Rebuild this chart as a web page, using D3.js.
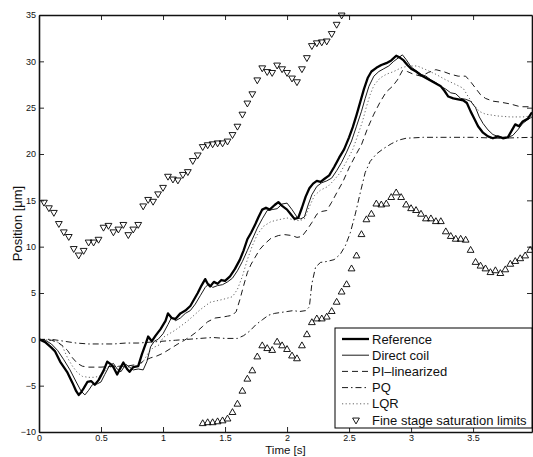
<!DOCTYPE html>
<html>
<head>
<meta charset="utf-8">
<script src="https://d3js.org/d3.v7.min.js"></script>
<style>
body { margin: 0; background: #fff; }
svg { display: block; }
text { font-family: "Liberation Sans", Arial, Helvetica, sans-serif; fill: #111; }
</style>
</head>
<body>
<svg id="chart" width="533" height="457"></svg>
<script>
// values
var legend_names = ["Reference", "Direct coil", "PI\u2013linearized", "PQ", "LQR", "Fine stage saturation limits"]
var x_ticks = [0, 0.5, 1, 1.5, 2, 2.5, 3, 3.5]
var y_ticks = [-10, -5, 0, 5, 10, 15, 20, 25, 30, 35]

var ref_t = [0,0.05,0.1,0.13,0.17,0.2,0.23,0.27,0.3,0.32,0.34,0.36,0.39,0.42,0.45,0.48,0.52,0.55,0.58,0.6,0.63,0.66,0.68,0.71,0.73,0.76,0.8,0.83,0.86,0.88,0.91,0.94,0.98,1.02,1.04,1.07,1.1,1.14,1.18,1.22,1.25,1.28,1.31,1.34,1.36,1.38,1.41,1.44,1.47,1.5,1.54,1.58,1.62,1.65,1.68,1.71,1.74,1.77,1.8,1.83,1.86,1.9,1.93,1.96,2.0,2.03,2.06,2.09,2.12,2.15,2.18,2.21,2.24,2.27,2.3,2.34,2.38,2.42,2.46,2.5,2.53,2.56,2.59,2.62,2.65,2.68,2.72,2.76,2.8,2.84,2.88,2.91,2.94,2.97,3.0,3.04,3.08,3.12,3.16,3.2,3.24,3.27,3.3,3.34,3.38,3.42,3.45,3.48,3.51,3.54,3.58,3.62,3.66,3.7,3.74,3.78,3.81,3.84,3.87,3.9,3.94,3.975]
var ref_y = [0,-0.3,-0.9,-1.3,-2.4,-3.0,-3.6,-4.7,-5.6,-6.0,-5.7,-5.3,-4.6,-4.5,-4.9,-4.4,-3.4,-2.4,-2.7,-3.0,-3.8,-3.0,-2.5,-3.2,-3.5,-3.0,-2.9,-1.6,-0.5,0.3,-0.2,0.4,1.1,2.0,2.8,2.3,2.2,2.8,3.1,3.6,4.3,5.0,5.8,6.5,6.0,5.7,6.2,6.0,6.4,6.3,6.8,7.6,8.6,9.6,10.8,11.5,12.3,13.2,14.0,14.2,14.0,14.5,14.8,14.4,14.0,13.5,13.0,13.1,14.2,15.4,16.3,16.8,17.1,17.0,17.3,17.7,18.6,19.6,20.5,21.8,22.9,24.2,25.6,27.0,28.2,28.9,29.3,29.6,29.8,30.1,30.6,30.4,30.1,29.6,29.2,28.9,28.5,28.2,27.9,27.6,27.3,26.8,26.2,26.0,25.9,25.8,25.5,24.6,23.8,23.0,22.3,21.9,21.7,21.9,21.7,21.8,22.5,23.2,23.0,23.5,23.8,24.5]

var coil_t = [0,0.05,0.1,0.15,0.2,0.25,0.3,0.34,0.37,0.4,0.43,0.47,0.5,0.53,0.57,0.6,0.63,0.66,0.7,0.73,0.76,0.8,0.84,0.87,0.9,0.93,0.96,1.0,1.04,1.07,1.1,1.14,1.18,1.22,1.26,1.3,1.34,1.37,1.4,1.44,1.48,1.52,1.56,1.6,1.64,1.68,1.72,1.76,1.8,1.84,1.88,1.92,1.96,2.0,2.04,2.08,2.11,2.14,2.17,2.2,2.24,2.28,2.32,2.36,2.4,2.44,2.48,2.52,2.56,2.6,2.63,2.66,2.7,2.74,2.78,2.82,2.86,2.9,2.93,2.96,3.0,3.04,3.08,3.12,3.16,3.2,3.24,3.28,3.32,3.36,3.4,3.44,3.48,3.52,3.55,3.58,3.62,3.66,3.7,3.74,3.78,3.82,3.86,3.9,3.94,3.975]
var coil_y = [0,-0.1,-0.5,-1.2,-2.2,-3.3,-4.6,-5.6,-6.0,-5.5,-4.9,-4.8,-4.6,-3.8,-2.8,-2.6,-3.2,-3.5,-2.7,-3.0,-3.3,-3.2,-3.3,-2.4,-0.8,-0.2,0.0,0.6,1.6,2.4,2.0,2.3,2.8,3.1,3.8,4.7,5.6,6.0,5.6,5.8,5.9,6.2,6.6,7.4,8.4,9.6,10.8,12.0,13.0,13.9,14.0,14.1,14.6,14.7,14.0,13.2,13.0,13.2,14.5,15.6,16.5,16.9,17.1,17.4,18.2,19.1,20.2,21.4,23.0,24.6,26.0,27.3,28.4,28.9,29.2,29.5,30.0,30.4,30.7,30.2,29.4,29.0,28.6,28.4,28.0,27.7,27.3,27.0,26.6,26.5,26.0,25.9,25.7,25.0,24.0,23.3,22.6,22.1,21.9,21.8,21.8,22.0,22.6,23.3,23.7,24.0]

var pi_t = [0,0.1,0.15,0.2,0.23,0.27,0.31,0.35,0.4,0.5,0.6,0.7,0.8,0.85,0.9,0.95,1.0,1.06,1.12,1.16,1.22,1.27,1.32,1.36,1.42,1.48,1.52,1.56,1.59,1.62,1.65,1.68,1.71,1.74,1.78,1.82,1.87,1.93,1.98,2.04,2.08,2.12,2.16,2.2,2.24,2.28,2.32,2.36,2.4,2.45,2.5,2.55,2.6,2.65,2.7,2.75,2.8,2.85,2.89,2.93,2.97,3.02,3.08,3.14,3.2,3.26,3.32,3.38,3.44,3.48,3.52,3.56,3.6,3.66,3.72,3.8,3.88,3.975]
var pi_y = [0,-0.1,-0.3,-0.8,-1.2,-2.0,-2.6,-2.9,-3.0,-3.0,-2.9,-2.9,-2.7,-2.3,-2.0,-1.8,-1.5,-1.0,-0.5,-0.2,0.3,0.8,1.4,1.9,2.3,2.4,2.5,2.6,3.0,4.3,5.8,7.2,8.1,8.8,9.7,10.3,10.9,11.2,11.3,11.2,11.0,11.1,11.8,12.6,13.5,13.8,13.9,14.8,15.8,17.0,18.5,19.8,21.0,22.8,24.3,25.6,26.7,27.3,28.0,29.0,28.9,28.6,28.4,28.8,29.1,28.9,28.6,28.4,28.4,27.8,27.1,26.4,26.0,25.7,25.6,25.4,25.1,25.1]

var pq_t = [0,0.1,0.2,0.3,0.4,0.5,0.6,0.7,0.8,0.9,1.0,1.1,1.2,1.3,1.4,1.5,1.6,1.65,1.7,1.75,1.8,1.85,1.9,1.95,2.0,2.05,2.1,2.15,2.18,2.2,2.23,2.27,2.32,2.38,2.43,2.47,2.51,2.55,2.59,2.63,2.67,2.72,2.78,2.84,2.9,2.96,3.1,3.3,3.5,3.7,3.975]
var pq_y = [0,0.0,-0.2,-0.4,-0.5,-0.5,-0.5,-0.4,-0.4,-0.3,-0.2,-0.1,0.0,0.1,0.2,0.1,0.1,0.4,0.9,1.6,2.1,2.6,2.8,2.9,3.0,3.1,3.0,3.1,3.5,6.0,7.8,8.3,8.4,8.6,9.2,10.1,11.5,13.5,15.8,18.0,19.2,20.0,20.6,21.1,21.5,21.7,21.8,21.8,21.8,21.7,21.8]

var lqr_t = [0,0.1,0.15,0.19,0.23,0.27,0.31,0.35,0.4,0.45,0.5,0.55,0.6,0.7,0.8,0.84,0.88,0.92,0.97,1.0,1.1,1.2,1.3,1.38,1.48,1.56,1.6,1.64,1.68,1.72,1.76,1.81,1.87,1.93,2.0,2.05,2.1,2.14,2.18,2.22,2.27,2.33,2.38,2.43,2.48,2.53,2.57,2.61,2.64,2.67,2.7,2.75,2.8,2.86,2.92,2.98,3.05,3.12,3.2,3.28,3.36,3.42,3.46,3.5,3.55,3.6,3.7,3.8,3.9,3.975]
var lqr_y = [0,-0.1,-0.3,-0.8,-2.0,-2.9,-3.6,-4.0,-4.1,-4.1,-3.9,-3.1,-2.9,-3.0,-2.9,-2.4,-1.5,-0.9,-0.6,0.2,1.0,2.0,3.2,4.0,4.3,4.6,5.4,6.8,8.6,10.1,11.3,12.2,12.7,12.9,13.1,12.9,12.8,13.0,14.3,15.5,16.1,16.5,17.2,18.0,19.2,20.5,22.0,23.6,25.1,26.4,27.4,28.2,28.6,28.9,29.3,29.5,29.5,29.1,28.6,28.0,27.5,27.1,26.2,25.4,24.6,24.3,24.1,24.0,24.0,24.1]

var upper_t = [0.04,0.08,0.12,0.16,0.2,0.24,0.28,0.32,0.36,0.4,0.44,0.48,0.52,0.56,0.6,0.64,0.68,0.72,0.76,0.8,0.84,0.88,0.92,0.96,1.0,1.04,1.08,1.12,1.16,1.2,1.24,1.28,1.32,1.36,1.4,1.44,1.48,1.52,1.56,1.6,1.64,1.68,1.72,1.76,1.8,1.84,1.88,1.92,1.96,2.0,2.04,2.08,2.12,2.16,2.2,2.24,2.28,2.32,2.36,2.4,2.44]
var upper_y = [14.8,14.2,13.7,12.5,11.6,11.1,9.8,9.1,9.6,10.5,10.5,10.8,12.1,12.3,11.6,11.9,12.4,11.3,11.9,12.4,14.4,15.1,14.9,15.7,16.4,17.6,17.3,17.2,17.8,18.1,19.3,19.9,20.8,21.0,21.1,21.2,21.2,21.4,22.1,23.0,24.3,25.5,26.5,28.0,29.3,28.9,28.8,29.6,29.2,28.8,28.2,27.8,29.2,30.4,31.7,32.0,32.1,32.2,33.0,34.0,35.0]

var lower_t = [1.32,1.36,1.4,1.44,1.48,1.52,1.56,1.6,1.64,1.68,1.72,1.76,1.8,1.84,1.88,1.92,1.96,2.0,2.04,2.08,2.12,2.16,2.2,2.24,2.28,2.32,2.36,2.4,2.44,2.48,2.52,2.56,2.6,2.64,2.68,2.72,2.76,2.8,2.84,2.88,2.92,2.96,3.0,3.04,3.08,3.12,3.16,3.2,3.24,3.28,3.32,3.36,3.4,3.44,3.48,3.52,3.56,3.6,3.64,3.68,3.72,3.76,3.8,3.84,3.88,3.92,3.96]
var lower_y = [-9.1,-9.0,-9.0,-8.9,-8.8,-8.6,-7.9,-7.0,-5.6,-4.3,-3.4,-1.9,-0.7,-1.0,-1.2,-0.3,-0.7,-1.1,-1.8,-2.1,-0.7,0.5,1.8,2.2,2.2,2.4,3.0,4.0,5.1,5.9,7.6,9.0,11.3,12.9,13.5,14.6,14.5,14.6,15.3,15.8,15.3,14.5,14.1,13.9,13.5,13.0,13.0,12.7,12.7,11.6,11.1,10.8,10.8,10.7,9.6,8.3,7.9,7.6,7.2,7.4,7.1,7.5,8.1,8.4,8.7,9.0,9.6]

var svg = d3.select("#chart")
var plot_left = 39, plot_right = 532, plot_top = 15, plot_bottom = 432

var x_scale = d3.scaleLinear().domain([0, 3.975]).range([plot_left, plot_right]),
    y_scale = d3.scaleLinear().domain([-10, 35]).range([plot_bottom, plot_top])

var zip = (ts, ys) => ts.map((t, i) => [t, ys[i]])

var series = [
	{name: legend_names[0], pts: zip(ref_t, ref_y),   width: 2.3, dash: null,          color: "#000"},
	{name: legend_names[1], pts: zip(coil_t, coil_y), width: 0.9, dash: null,          color: "#000"},
	{name: legend_names[2], pts: zip(pi_t, pi_y),     width: 0.9, dash: "6,4",         color: "#000"},
	{name: legend_names[3], pts: zip(pq_t, pq_y),     width: 0.9, dash: "6,3,1.5,3",   color: "#000"},
	{name: legend_names[4], pts: zip(lqr_t, lqr_y),   width: 0.9, dash: "1.2,2.4",     color: "#555"}
]

svg.append("clipPath").attr("id", "plot_clip")
  .append("rect")
  .attr("x", plot_left).attr("y", plot_top)
  .attr("width", plot_right - plot_left).attr("height", plot_bottom - plot_top)

var line = d3.line().x(d => x_scale(d[0])).y(d => y_scale(d[1]))

svg.append("g")
  .attr("clip-path", "url(#plot_clip)")
  .selectAll(".series_line")
  .data(series.slice().reverse())
  .enter()
  .append("path")
  .attr("class", "series_line")
  .attr("d", d => line(d.pts))
  .style("fill", "none")
  .style("stroke", d => d.color)
  .style("stroke-width", d => d.width)
  .style("stroke-dasharray", d => d.dash)
  .style("stroke-linejoin", "round")

// saturation limits: upper bound drawn as down triangles, lower as up triangles
var tri = d3.symbol().type(d3.symbolTriangle).size(20)
var marks = zip(upper_t, upper_y).map(d => ({t: d[0], v: d[1], down: true}))
  .concat(zip(lower_t, lower_y).map(d => ({t: d[0], v: d[1], down: false})))

svg.append("g")
  .selectAll(".limit_mark")
  .data(marks)
  .enter()
  .append("path")
  .attr("class", "limit_mark")
  .attr("d", tri)
  .attr("transform", d => "translate(" + x_scale(d.t) + "," + y_scale(d.v) + ")" + (d.down ? " rotate(180)" : ""))
  .style("fill", "none")
  .style("stroke", "#000")
  .style("stroke-width", 0.9)

// axes box with inward ticks on all sides
var ax = svg.append("g")
ax.append("g").attr("transform", "translate(0," + plot_bottom + ")")
  .call(d3.axisBottom(x_scale).tickValues(x_ticks).tickSizeInner(-5).tickSizeOuter(0).tickPadding(3).tickFormat(d => d))
ax.append("g").attr("transform", "translate(0," + plot_top + ")")
  .call(d3.axisTop(x_scale).tickValues(x_ticks).tickSizeInner(-5).tickSizeOuter(0).tickFormat(""))
ax.append("g").attr("transform", "translate(" + plot_left + ",0)")
  .call(d3.axisLeft(y_scale).tickValues(y_ticks).tickSizeInner(-5).tickSizeOuter(0).tickPadding(3).tickFormat(d => d < 0 ? "\u2212" + (-d) : d))
ax.append("g").attr("transform", "translate(" + plot_right + ",0)")
  .call(d3.axisRight(y_scale).tickValues(y_ticks).tickSizeInner(-5).tickSizeOuter(0).tickFormat(""))

ax.selectAll(".domain").style("stroke", "#111").style("stroke-width", 1.6)
ax.selectAll(".tick line").style("stroke", "#111").style("stroke-width", 0.9)
ax.selectAll(".tick text").style("font-size", "9px").style("fill", "#111")

svg.append("text")
  .attr("x", (plot_left + plot_right) / 2).attr("y", 454)
  .attr("text-anchor", "middle")
  .style("font-size", "11.5px")
  .text("Time [s]")

svg.append("text")
  .attr("transform", "translate(22," + ((plot_top + plot_bottom) / 2) + ") rotate(-90)")
  .attr("text-anchor", "middle")
  .style("font-size", "13px")
  .text("Position [\u03bcm]")

// legend
var lg = svg.append("g").attr("transform", "translate(335,328)")
lg.append("rect")
  .attr("width", 197).attr("height", 100)
  .style("fill", "#fff").style("stroke", "#000").style("stroke-width", 1)

var rows = lg.selectAll(".legend_row")
  .data(legend_names)
  .enter()
  .append("g")
  .attr("class", "legend_row")
  .attr("transform", (d, i) => "translate(0," + (11 + i * 16.2) + ")")

rows.filter((d, i) => i < 5)
  .append("line")
  .attr("x1", 7).attr("x2", 34)
  .style("stroke", (d, i) => series[i].color)
  .style("stroke-width", (d, i) => series[i].width)
  .style("stroke-dasharray", (d, i) => series[i].dash)

rows.filter((d, i) => i == 5)
  .append("path")
  .attr("d", tri)
  .attr("transform", "translate(21,0) rotate(180)")
  .style("fill", "none").style("stroke", "#000").style("stroke-width", 0.9)

rows.append("text")
  .attr("x", 37).attr("y", 4.5)
  .style("font-size", "13px")
  .text(d => d)
</script>
</body>
</html>
